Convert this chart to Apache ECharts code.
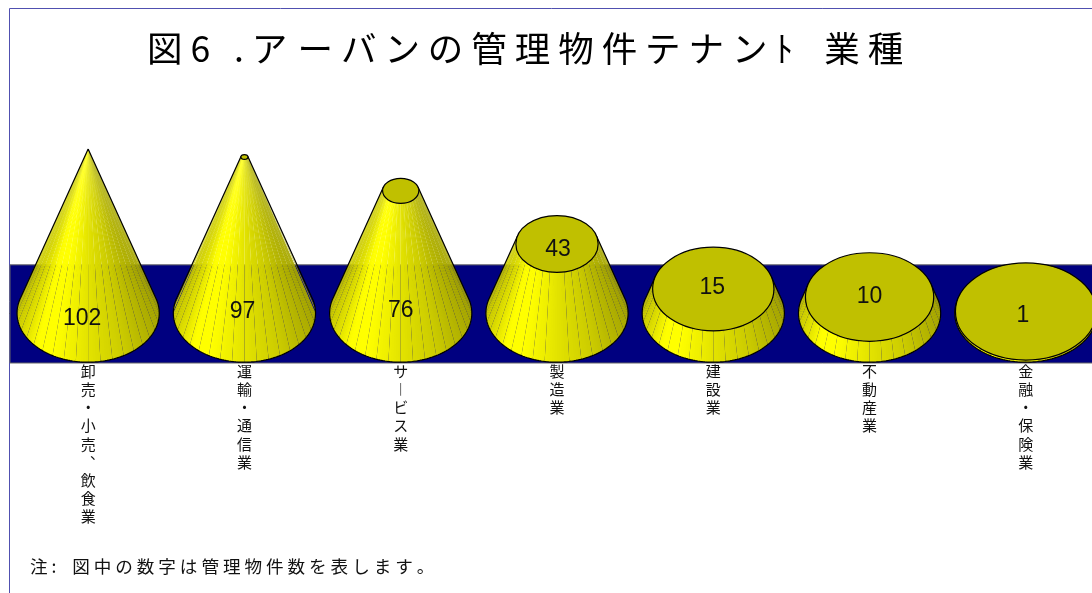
<!DOCTYPE html>
<html>
<head>
<meta charset="utf-8">
<style>
  html, body { margin: 0; padding: 0; background: #fff; overflow: hidden; }
  #chart { width: 1092px; height: 593px; }
</style>
<script src="https://cdn.jsdelivr.net/npm/echarts@6/dist/echarts.min.js"></script>
</head>
<body>
<div id="chart"></div>
<script>
// Tenant sectors and the number of managed properties in each
const categories = ['卸売・小売、飲食業', '運輸・通信業', 'サービス業', '製造業', '建設業', '不動産業', '金融・保険業'];
const propertyCounts = [102, 97, 76, 43, 15, 10, 1];
const fullCone = 102;            // count at which a cone closes to a point
const wallRange = [-31, 30];     // extent of the navy wall on the value axis
const axisRange = [-31, 102];

// Value label placement relative to the centre of each cone's top face
const labelShift = [[-6, 170], [-2, 155], [0, 120], [1, 6], [-1, -1], [0, 0], [-3, 4]];

const FONT_JP = '"Noto Sans CJK JP", "Noto Sans", sans-serif';
const RAD = Math.PI / 180;
const BASE_RATIO = 0.455;   // base radius as a share of the category band
const SQUASH = 0.69;        // ellipse height / width
const PANEL = 10;           // degrees between visible panel seams
const STRIP = 2;            // degrees per shaded strip inside a panel

// Brightness across the cone's width, from its left edge to its right edge
const shadeStops = [[-1, 0.80], [-0.72, 1], [-0.5, 1], [0, 0.89], [0.5, 0.8], [1, 0.66]];

function facetColor(deg) {
  const x = Math.cos(deg * RAD);
  let b = shadeStops[0][1];
  for (let k = 0; k < shadeStops.length - 1; k++) {
    const p = shadeStops[k], q = shadeStops[k + 1];
    if (x >= p[0] && x <= q[0]) b = p[1] + (q[1] - p[1]) * (x - p[0]) / (q[0] - p[0]);
  }
  const v = Math.round(255 * b);
  return 'rgb(' + v + ',' + v + ',0)';
}

function renderCone(params, api) {
  const i = api.value(0);
  const v = api.value(1);
  const base = api.coord([i, 0]);
  const top = api.coord([i, v]);
  const apexY = api.coord([i, fullCone])[1];
  const rx = api.size([1, 0])[0] * BASE_RATIO;
  const ry = rx * SQUASH;
  const rTop = rx * (1 - v / fullCone);
  const height = base[1] - apexY;
  const alpha = Math.asin(ry / height) / RAD;   // silhouette angle past the horizontal

  const onBase = d => [base[0] + rx * Math.cos(d * RAD), base[1] + ry * Math.sin(d * RAD)];
  const onTop = d => [top[0] + rTop * Math.cos(d * RAD), top[1] + rTop * SQUASH * Math.sin(d * RAD)];

  // Strips overlap slightly so only the panel boundaries leave a seam
  const children = [];
  const end = 180 + alpha;
  for (let a = -alpha; a < end;) {
    const next = Math.min(end, (Math.floor(a / STRIP + 1e-6) + 1) * STRIP);
    const atSeam = Math.abs(next / PANEL - Math.round(next / PANEL)) < 1e-6;
    const b = atSeam ? next : Math.min(end, next + 1);
    children.push({
      type: 'polygon',
      shape: { points: [onBase(a), onBase(b), onTop(b), onTop(a)] },
      style: { fill: facetColor((a + next) / 2) },
      silent: true
    });
    a = next;
  }

  // Outline: both slanted edges and the front of the base
  const outline = [onTop(-alpha)];
  for (let d = -alpha; d <= 180 + alpha; d += 2) outline.push(onBase(d));
  outline.push(onBase(180 + alpha), onTop(180 + alpha));
  children.push({
    type: 'polyline',
    shape: { points: outline },
    style: { fill: 'none', stroke: '#000', lineWidth: 1.2 },
    silent: true
  });

  if (rTop > 0) {
    children.push({
      type: 'ellipse',
      shape: { cx: top[0], cy: top[1], rx: rTop, ry: rTop * SQUASH },
      style: { fill: '#c0c000', stroke: '#000', lineWidth: 1.2 },
      silent: true
    });
  }

  const shift = labelShift[i];
  children.push({
    type: 'text',
    style: {
      x: top[0] + shift[0], y: top[1] + shift[1],
      text: String(v),
      fill: '#111',
      font: '23px "Liberation Sans", Arial, sans-serif',
      align: 'center', verticalAlign: 'middle'
    },
    silent: true
  });
  return { type: 'group', children };
}

function renderWall(params, api) {
  const cs = params.coordSys;
  const y0 = api.coord([0, api.value(1)])[1];
  const y1 = api.coord([0, api.value(0)])[1];
  return {
    type: 'rect',
    shape: { x: cs.x, y: y0, width: cs.width, height: y1 - y0 },
    style: { fill: '#000080', stroke: '#666', lineWidth: 1 },
    silent: true
  };
}

// Sector names read top to bottom, so long marks use their upright forms
const uprightForms = { 'ー': '︱', '、': '︑' };
const stackVertical = name => Array.from(name, ch => uprightForms[ch] || ch).join('\n');

const chart = echarts.init(document.getElementById('chart'), null, { renderer: 'canvas' });
chart.setOption({
  animation: false,
  backgroundColor: '#fff',
  title: [{
    text: '図 6   . ア\u200A ー バ ン の 管 理 物 件 テ ナ ン ﾄ   \u2009業 種',
    left: 147, top: 31, padding: 0,
    textStyle: { fontFamily: FONT_JP, fontSize: 35.5, fontWeight: 'normal', color: '#000' }
  }, {
    text: '注 :    図 中 の 数 字 は 管 理 物 件 数 を 表 し ま す 。',
    left: 30, top: 558, padding: 0,
    textStyle: { fontFamily: FONT_JP, fontSize: 17.6, fontWeight: 'normal', color: '#111' }
  }],
  graphic: [{
    type: 'rect',
    shape: { x: 9.5, y: 8.5, width: 1200, height: 700 },
    style: { fill: 'none', stroke: '#5050b0', lineWidth: 1 },
    silent: true
  }],
  grid: { left: 10, top: 149, width: 1094, height: 214, outerBoundsMode: 'none' },
  xAxis: {
    type: 'category',
    data: categories,
    axisLine: { show: true, lineStyle: { color: '#222', width: 1 } },
    axisTick: { show: false },
    axisLabel: {
      interval: 0,
      margin: -1,
      formatter: stackVertical,
      fontFamily: FONT_JP,
      fontSize: 15,
      lineHeight: 18.2,
      color: '#111',
      hideOverlap: false
    }
  },
  yAxis: {
    type: 'value',
    min: axisRange[0],
    max: axisRange[1],
    show: false,
    splitLine: { show: false }
  },
  series: [{
    type: 'custom',
    renderItem: renderWall,
    data: [wallRange],
    encode: { y: [0, 1] },
    clip: false,
    silent: true,
    z: 1
  }, {
    type: 'custom',
    renderItem: renderCone,
    data: categories.map((c, i) => [i, propertyCounts[i]]),
    encode: { x: 0, y: 1 },
    clip: false,
    silent: true,
    z: 2
  }]
});
</script>
</body>
</html>
